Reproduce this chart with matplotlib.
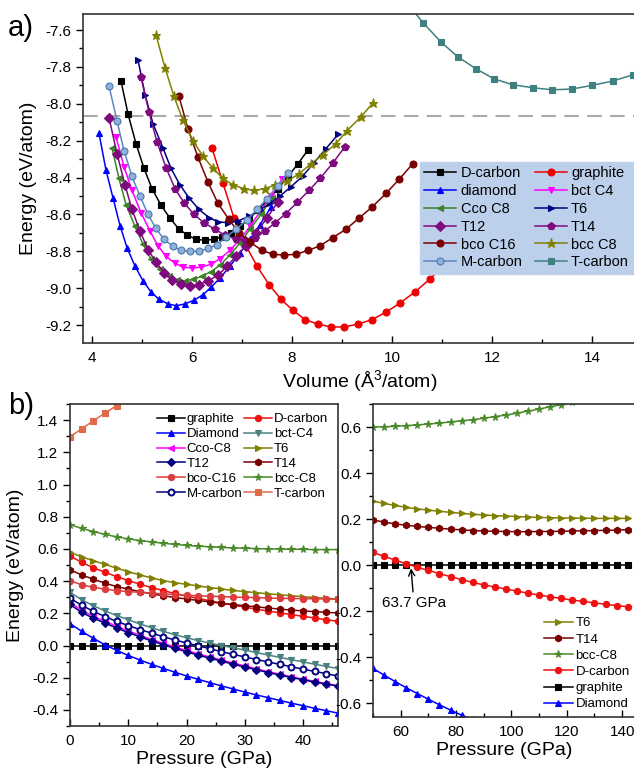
import matplotlib
matplotlib.use("Agg")
import matplotlib.pyplot as plt
from matplotlib.ticker import MultipleLocator

plt.rcParams['font.family'] = ['Liberation Sans', 'DejaVu Sans']
plt.rcParams['mathtext.fontset'] = 'custom'
plt.rcParams['mathtext.rm'] = 'Liberation Sans'
plt.rcParams['axes.unicode_minus'] = False

# ---------------- panel a data: volume (A^3/atom) vs energy (eV/atom) ----------------
dcarbon_v = [4.58, 4.72, 4.88, 5.04, 5.2, 5.38, 5.56, 5.74, 5.9, 6.08, 6.26, 6.44, 6.6, 6.78, 6.96, 7.14, 7.32, 7.52, 7.72, 7.92, 8.12, 8.32]
dcarbon_e = [-7.876, -8.055, -8.216, -8.35, -8.46, -8.55, -8.62, -8.68, -8.71, -8.735, -8.74, -8.735, -8.72, -8.70, -8.665, -8.625, -8.575, -8.52, -8.46, -8.395, -8.325, -8.25]
graphite_v = [6.4, 6.62, 6.84, 7.06, 7.3, 7.54, 7.78, 8.02, 8.26, 8.52, 8.78, 9.04, 9.32, 9.6, 9.88, 10.16, 10.46, 10.76, 11.06, 11.36]
graphite_e = [-8.24, -8.43, -8.62, -8.76, -8.88, -8.98, -9.06, -9.12, -9.17, -9.195, -9.21, -9.21, -9.195, -9.17, -9.13, -9.08, -9.02, -8.95, -8.87, -8.78]
diamond_v = [4.14, 4.28, 4.42, 4.56, 4.70, 4.86, 5.02, 5.18, 5.34, 5.52, 5.68, 5.86, 6.04, 6.22, 6.38, 6.56, 6.76, 6.96, 7.16, 7.36, 7.58]
diamond_e = [-8.16, -8.36, -8.51, -8.66, -8.78, -8.88, -8.96, -9.02, -9.06, -9.085, -9.095, -9.085, -9.065, -9.035, -8.995, -8.945, -8.88, -8.81, -8.735, -8.655, -8.56]
bctc4_v = [4.48, 4.64, 4.8, 4.98, 5.16, 5.32, 5.48, 5.66, 5.82, 6.0, 6.18, 6.38, 6.56, 6.76, 6.96, 7.16, 7.36, 7.58, 7.8]
bctc4_e = [-8.18, -8.34, -8.47, -8.59, -8.69, -8.77, -8.827, -8.865, -8.886, -8.89, -8.886, -8.87, -8.84, -8.795, -8.735, -8.665, -8.585, -8.50, -8.41]
ccoc8_v = [4.4, 4.54, 4.68, 4.86, 5.02, 5.18, 5.36, 5.54, 5.7, 5.86, 6.02, 6.2, 6.38, 6.56, 6.76, 6.96, 7.16, 7.38, 7.6]
ccoc8_e = [-8.24, -8.405, -8.546, -8.665, -8.76, -8.843, -8.897, -8.935, -8.955, -8.96, -8.952, -8.935, -8.91, -8.875, -8.82, -8.755, -8.68, -8.60, -8.51]
t6_v = [4.92, 5.06, 5.22, 5.42, 5.58, 5.76, 5.94, 6.14, 6.34, 6.52, 6.72, 6.92, 7.14, 7.36, 7.56, 7.76, 7.98, 8.22, 8.44, 8.68, 8.92]
t6_e = [-7.762, -7.95, -8.108, -8.24, -8.35, -8.44, -8.51, -8.573, -8.617, -8.64, -8.645, -8.635, -8.61, -8.575, -8.54, -8.50, -8.45, -8.39, -8.32, -8.243, -8.166]
t12_v = [4.34, 4.5, 4.66, 4.8, 4.96, 5.12, 5.28, 5.44, 5.6, 5.78, 5.96, 6.14, 6.32, 6.52, 6.7, 6.88, 7.08, 7.28, 7.5, 7.72]
t12_e = [-8.075, -8.27, -8.44, -8.573, -8.69, -8.79, -8.86, -8.915, -8.956, -8.978, -8.99, -8.98, -8.96, -8.93, -8.88, -8.827, -8.77, -8.70, -8.62, -8.53]
t14_v = [4.98, 5.14, 5.3, 5.48, 5.66, 5.84, 6.04, 6.24, 6.46, 6.66, 6.88, 7.06, 7.26, 7.46, 7.66, 7.88, 8.1, 8.34, 8.56, 8.82, 9.06]
t14_e = [-7.855, -8.045, -8.207, -8.346, -8.46, -8.536, -8.60, -8.645, -8.68, -8.713, -8.733, -8.74, -8.725, -8.69, -8.645, -8.595, -8.535, -8.47, -8.405, -8.32, -8.232]
bcoc16_v = [5.74, 5.92, 6.12, 6.32, 6.52, 6.74, 6.94, 7.16, 7.4, 7.62, 7.84, 8.08, 8.32, 8.56, 8.82, 9.08, 9.34, 9.6, 9.88, 10.14, 10.42]
bcoc16_e = [-7.96, -8.137, -8.29, -8.425, -8.54, -8.627, -8.70, -8.75, -8.795, -8.816, -8.82, -8.816, -8.795, -8.77, -8.725, -8.68, -8.62, -8.56, -8.486, -8.41, -8.324]
bccc8_v = [5.28, 5.46, 5.64, 5.82, 6.02, 6.22, 6.42, 6.62, 6.82, 7.04, 7.24, 7.46, 7.66, 7.9, 8.14, 8.38, 8.62, 8.88, 9.1, 9.38, 9.62]
bccc8_e = [-7.627, -7.805, -7.96, -8.09, -8.2, -8.285, -8.35, -8.405, -8.44, -8.46, -8.47, -8.46, -8.44, -8.42, -8.38, -8.325, -8.276, -8.216, -8.146, -8.07, -7.995]
mcarbon_v = [4.34, 4.5, 4.64, 4.8, 4.96, 5.12, 5.28, 5.44, 5.62, 5.78, 5.96, 6.14, 6.32, 6.5, 6.68, 6.88, 7.1, 7.3, 7.5, 7.72, 7.92]
mcarbon_e = [-7.903, -8.092, -8.254, -8.394, -8.50, -8.60, -8.676, -8.735, -8.773, -8.795, -8.80, -8.80, -8.784, -8.763, -8.724, -8.68, -8.63, -8.573, -8.514, -8.443, -8.373]
tcarbon_v = [10.26, 10.62, 10.98, 11.32, 11.68, 12.04, 12.42, 12.82, 13.2, 13.6, 14.0, 14.42, 14.82, 15.22]
tcarbon_e = [-7.44, -7.56, -7.665, -7.746, -7.81, -7.865, -7.897, -7.913, -7.924, -7.92, -7.90, -7.876, -7.843, -7.80]
ref_line_e = -8.065

# ---------------- panel b (left) data: pressure (GPa) vs relative enthalpy ----------------
p_left = [0, 2, 4, 6, 8, 10, 12, 14, 16, 18, 20, 22, 24, 26, 28, 30, 32, 34, 36, 38, 40, 42, 44, 46]
bl_graphite = [0.0] * 24
bl_dcarbon = [0.557, 0.516, 0.483, 0.455, 0.428, 0.403, 0.381, 0.36, 0.341, 0.323, 0.307, 0.292, 0.278, 0.264, 0.251, 0.238, 0.226, 0.214, 0.203, 0.192, 0.181, 0.171, 0.16, 0.15]
bl_diamond = [0.136, 0.088, 0.045, 0.004, -0.03, -0.062, -0.09, -0.117, -0.142, -0.166, -0.189, -0.21, -0.231, -0.251, -0.27, -0.289, -0.307, -0.324, -0.341, -0.358, -0.374, -0.39, -0.405, -0.42]
bl_bctc4 = [0.33, 0.284, 0.247, 0.215, 0.186, 0.16, 0.134, 0.11, 0.088, 0.067, 0.048, 0.031, 0.015, 0.0, -0.014, -0.029, -0.044, -0.059, -0.074, -0.088, -0.102, -0.116, -0.13, -0.143]
bl_ccoc8 = [0.268, 0.218, 0.182, 0.15, 0.12, 0.09, 0.064, 0.037, 0.014, -0.009, -0.031, -0.052, -0.071, -0.09, -0.109, -0.127, -0.145, -0.162, -0.178, -0.194, -0.209, -0.223, -0.237, -0.25]
bl_t6 = [0.58, 0.55, 0.527, 0.504, 0.48, 0.459, 0.438, 0.42, 0.403, 0.39, 0.38, 0.37, 0.36, 0.351, 0.342, 0.335, 0.328, 0.321, 0.315, 0.309, 0.303, 0.298, 0.293, 0.288]
bl_t12 = [0.255, 0.205, 0.17, 0.139, 0.109, 0.08, 0.054, 0.028, 0.005, -0.018, -0.039, -0.06, -0.079, -0.097, -0.116, -0.134, -0.151, -0.168, -0.184, -0.199, -0.213, -0.227, -0.24, -0.252]
bl_t14 = [0.471, 0.438, 0.412, 0.387, 0.366, 0.35, 0.335, 0.321, 0.309, 0.298, 0.289, 0.28, 0.271, 0.262, 0.254, 0.247, 0.24, 0.233, 0.226, 0.22, 0.215, 0.21, 0.206, 0.202]
bl_bcoc16 = [0.403, 0.377, 0.362, 0.35, 0.341, 0.335, 0.33, 0.325, 0.321, 0.316, 0.312, 0.309, 0.306, 0.304, 0.301, 0.299, 0.297, 0.295, 0.293, 0.292, 0.291, 0.29, 0.289, 0.288]
bl_bccc8 = [0.75, 0.728, 0.708, 0.69, 0.675, 0.662, 0.652, 0.643, 0.635, 0.628, 0.622, 0.617, 0.613, 0.609, 0.606, 0.604, 0.602, 0.6, 0.599, 0.598, 0.597, 0.596, 0.596, 0.596]
bl_mcarbon = [0.294, 0.25, 0.212, 0.18, 0.15, 0.124, 0.099, 0.077, 0.055, 0.034, 0.016, -0.002, -0.02, -0.038, -0.055, -0.071, -0.087, -0.102, -0.117, -0.132, -0.147, -0.161, -0.175, -0.19]
p_tcarbon = [0, 2, 4, 6, 8, 10]
bl_tcarbon = [1.296, 1.346, 1.395, 1.444, 1.49, 1.535]

# ---------------- panel b (right) data ----------------
p_right = [50, 54, 58, 62, 66, 70, 74, 78, 82, 86, 90, 94, 98, 102, 106, 110, 114, 118, 122, 126, 130, 134, 138, 142]
br_t6 = [0.278, 0.268, 0.259, 0.251, 0.244, 0.239, 0.234, 0.229, 0.225, 0.221, 0.218, 0.215, 0.213, 0.211, 0.209, 0.207, 0.206, 0.205, 0.204, 0.204, 0.203, 0.203, 0.203, 0.203]
br_t14 = [0.196, 0.187, 0.179, 0.173, 0.168, 0.164, 0.16, 0.156, 0.153, 0.15, 0.148, 0.147, 0.146, 0.145, 0.145, 0.146, 0.146, 0.147, 0.148, 0.149, 0.15, 0.151, 0.152, 0.154]
br_bccc8 = [0.6, 0.601, 0.603, 0.606, 0.609, 0.613, 0.617, 0.622, 0.627, 0.632, 0.638, 0.645, 0.652, 0.66, 0.669, 0.678, 0.688, 0.697, 0.707, 0.717, 0.728, 0.739, 0.75, 0.762]
br_dcarbon = [0.055, 0.038, 0.022, 0.006, -0.009, -0.023, -0.037, -0.05, -0.063, -0.075, -0.086, -0.095, -0.104, -0.113, -0.122, -0.13, -0.138, -0.145, -0.152, -0.158, -0.164, -0.17, -0.176, -0.181]
br_graphite = [0.0] * 24
p_right_dia = [50, 54, 58, 62, 66, 70, 74, 78, 82, 86, 90, 94]
br_diamond = [-0.449, -0.478, -0.506, -0.533, -0.558, -0.583, -0.607, -0.63, -0.652, -0.672, -0.692, -0.712]
transition_p = 63.7

W, H = 634, 771
fig = plt.figure(figsize=(W / 100, H / 100), dpi=100)


def rect(l, t, r, b):
    return [l / W, 1 - b / H, (r - l) / W, (b - t) / H]


ax_a = fig.add_axes(rect(83, 14, 636, 343))
ax_b1 = fig.add_axes(rect(70, 404, 338, 726))
ax_b2 = fig.add_axes(rect(373, 404, 636, 717))

LW = 1.1


def series(ax, x, y, color, marker, label, ms=5.0, mfc=None, mec=None, mew=0.8):
    return ax.plot(x, y, color=color, marker=marker, ms=ms, lw=LW,
                   mfc=mfc if mfc is not None else color,
                   mec=mec if mec is not None else color, mew=mew, label=label)[0]


# ---------------- panel a ----------------
ax_a.axhline(ref_line_e, color='#aaaaaa', lw=1.5, ls=(0, (7, 4)), zorder=1)
h = {}
h['D-carbon'] = series(ax_a, dcarbon_v, dcarbon_e, '#000000', 's', 'D-carbon')
h['graphite'] = series(ax_a, graphite_v, graphite_e, '#ee0000', 'o', 'graphite')
h['diamond'] = series(ax_a, diamond_v, diamond_e, '#0000ff', '^', 'diamond')
h['bct C4'] = series(ax_a, bctc4_v, bctc4_e, '#ff00ff', 'v', 'bct C4')
h['Cco C8'] = series(ax_a, ccoc8_v, ccoc8_e, '#3c8226', '<', 'Cco C8')
h['T6'] = series(ax_a, t6_v, t6_e, '#000080', '>', 'T6')
h['T12'] = series(ax_a, t12_v, t12_e, '#7f0a7f', 'D', 'T12', ms=4.6)
h['T14'] = series(ax_a, t14_v, t14_e, '#7f0a7f', 'p', 'T14', ms=5.5)
h['bco C16'] = series(ax_a, bcoc16_v, bcoc16_e, '#7a0000', 'o', 'bco C16')
h['bcc C8'] = series(ax_a, bccc8_v, bccc8_e, '#808000', '*', 'bcc C8', ms=6.5)
h['M-carbon'] = series(ax_a, mcarbon_v, mcarbon_e, '#5b87c0', 'o', 'M-carbon',
                       mfc='#8fb0da', mec='#4a78b0')
h['T-carbon'] = series(ax_a, tcarbon_v, tcarbon_e, '#3f8080', 's', 'T-carbon')

ax_a.set_xlim(3.82, 14.88)
ax_a.set_ylim(-9.297, -7.513)
ax_a.xaxis.set_major_locator(MultipleLocator(2))
ax_a.xaxis.set_minor_locator(MultipleLocator(1))
ax_a.yaxis.set_major_locator(MultipleLocator(0.2))
ax_a.yaxis.set_minor_locator(MultipleLocator(0.1))
ax_a.set_xlabel('Volume (Å$^3$/atom)', fontsize=14, labelpad=2)
ax_a.set_ylabel('Energy (eV/atom)', fontsize=14, labelpad=6)

order_a = ['D-carbon', 'diamond', 'Cco C8', 'T12', 'bco C16', 'M-carbon',
           'graphite', 'bct C4', 'T6', 'T14', 'bcc C8', 'T-carbon']
leg_a = ax_a.legend([h[k] for k in order_a], order_a, ncol=2, loc='upper left',
                    bbox_to_anchor=(0.609, 0.213, 0.386, 0.337), mode='expand',
                    fontsize=10.5, frameon=True, fancybox=False, framealpha=1,
                    facecolor='#bcd0ec', edgecolor='#bcd0ec', handlelength=2.2,
                    handletextpad=0.3, columnspacing=0.2, labelspacing=0.26,
                    borderpad=0.3, borderaxespad=0)
leg_a.set_zorder(10)

# ---------------- panel b left ----------------
g = {}
g['graphite'] = series(ax_b1, p_left, bl_graphite, '#000000', 's', 'graphite', ms=4)
g['D-carbon'] = series(ax_b1, p_left, bl_dcarbon, '#ee1111', 'o', 'D-carbon', ms=4.5)
g['Diamond'] = series(ax_b1, p_left, bl_diamond, '#0000ff', '^', 'Diamond', ms=4.5)
g['bct-C4'] = series(ax_b1, p_left, bl_bctc4, '#4a8282', 'v', 'bct-C4', ms=4.5)
g['Cco-C8'] = series(ax_b1, p_left, bl_ccoc8, '#ff00ff', '<', 'Cco-C8', ms=4.5)
g['T6'] = series(ax_b1, p_left, bl_t6, '#808000', '>', 'T6', ms=4.5)
g['T12'] = series(ax_b1, p_left, bl_t12, '#000080', 'D', 'T12', ms=3.8)
g['T14'] = series(ax_b1, p_left, bl_t14, '#7a0000', 'h', 'T14', ms=4.8)
g['bco-C16'] = series(ax_b1, p_left, bl_bcoc16, '#dc3c3c', 'o', 'bco-C16', ms=4.5)
g['bcc-C8'] = series(ax_b1, p_left, bl_bccc8, '#4a8a2a', '*', 'bcc-C8', ms=5.5)
g['M-carbon'] = series(ax_b1, p_left, bl_mcarbon, '#000080', 'o', 'M-carbon', ms=4.3,
                       mfc='#ffffff', mec='#000080', mew=1.4)
g['T-carbon'] = series(ax_b1, p_tcarbon, bl_tcarbon, '#e06a4a', 's', 'T-carbon', ms=4)

ax_b1.set_xlim(0, 46)
ax_b1.set_ylim(-0.5, 1.5)
ax_b1.xaxis.set_major_locator(MultipleLocator(10))
ax_b1.xaxis.set_minor_locator(MultipleLocator(5))
ax_b1.yaxis.set_major_locator(MultipleLocator(0.2))
ax_b1.yaxis.set_minor_locator(MultipleLocator(0.1))
ax_b1.set_xlabel('Pressure (GPa)', fontsize=14, labelpad=2)
ax_b1.set_ylabel('Energy (eV/atom)', fontsize=14, labelpad=6)

order_b1 = ['graphite', 'Diamond', 'Cco-C8', 'T12', 'bco-C16', 'M-carbon',
            'D-carbon', 'bct-C4', 'T6', 'T14', 'bcc-C8', 'T-carbon']
ax_b1.legend([g[k] for k in order_b1], order_b1, ncol=2, loc='upper left',
             bbox_to_anchor=(0.29, 1.0), frameon=False, fontsize=9.5,
             handlelength=2.1, handletextpad=0.15, columnspacing=0.15,
             labelspacing=0.2, borderaxespad=0.3)

# ---------------- panel b right ----------------
r = {}
r['graphite'] = series(ax_b2, p_right, br_graphite, '#000000', 's', 'graphite', ms=4)
r['D-carbon'] = series(ax_b2, p_right, br_dcarbon, '#ee1111', 'o', 'D-carbon', ms=4.5)
r['Diamond'] = series(ax_b2, p_right_dia, br_diamond, '#0000ff', '^', 'Diamond', ms=4.5)
r['T6'] = series(ax_b2, p_right, br_t6, '#808000', '>', 'T6', ms=4.5)
r['T14'] = series(ax_b2, p_right, br_t14, '#7a0000', 'h', 'T14', ms=4.8)
r['bcc-C8'] = series(ax_b2, p_right, br_bccc8, '#4a8a2a', '*', 'bcc-C8', ms=5.5)

ax_b2.set_xlim(50, 145)
ax_b2.set_ylim(-0.66, 0.70)
ax_b2.xaxis.set_major_locator(MultipleLocator(20))
ax_b2.xaxis.set_minor_locator(MultipleLocator(10))
ax_b2.yaxis.set_major_locator(MultipleLocator(0.2))
ax_b2.yaxis.set_minor_locator(MultipleLocator(0.1))
ax_b2.set_xlabel('Pressure (GPa)', fontsize=14, labelpad=2)

order_b2 = ['T6', 'T14', 'bcc-C8', 'D-carbon', 'graphite', 'Diamond']
ax_b2.legend([r[k] for k in order_b2], order_b2, ncol=1, loc='lower left',
             bbox_to_anchor=(0.625, 0.0), frameon=False, fontsize=9.5,
             handlelength=2.2, handletextpad=0.2, labelspacing=0.3,
             borderaxespad=0.1)

ax_b2.annotate('%.1f GPa' % transition_p, xy=(transition_p, -0.008), xytext=(53.2, -0.165),
               fontsize=11, ha='left', va='center',
               arrowprops=dict(arrowstyle='->', color='black', lw=1.0,
                               shrinkA=1, shrinkB=1))

for ax in (ax_a, ax_b1, ax_b2):
    for s in ax.spines.values():
        s.set_linewidth(1.2)
        s.set_color('#333333')
    ax.tick_params(axis='x', which='both', direction='in', top=False, labelsize=11, pad=6)
    ax.tick_params(axis='y', which='both', direction='out', right=False, labelsize=11)
    ax.tick_params(which='major', length=5, width=1)
    ax.tick_params(which='minor', length=3, width=1)

fig.text(8 / W, 1 - 28 / H, 'a)', fontsize=21, ha='left', va='center')
fig.text(8 / W, 1 - 406 / H, 'b)', fontsize=21, ha='left', va='center')

fig.savefig('out.png', dpi=100)
